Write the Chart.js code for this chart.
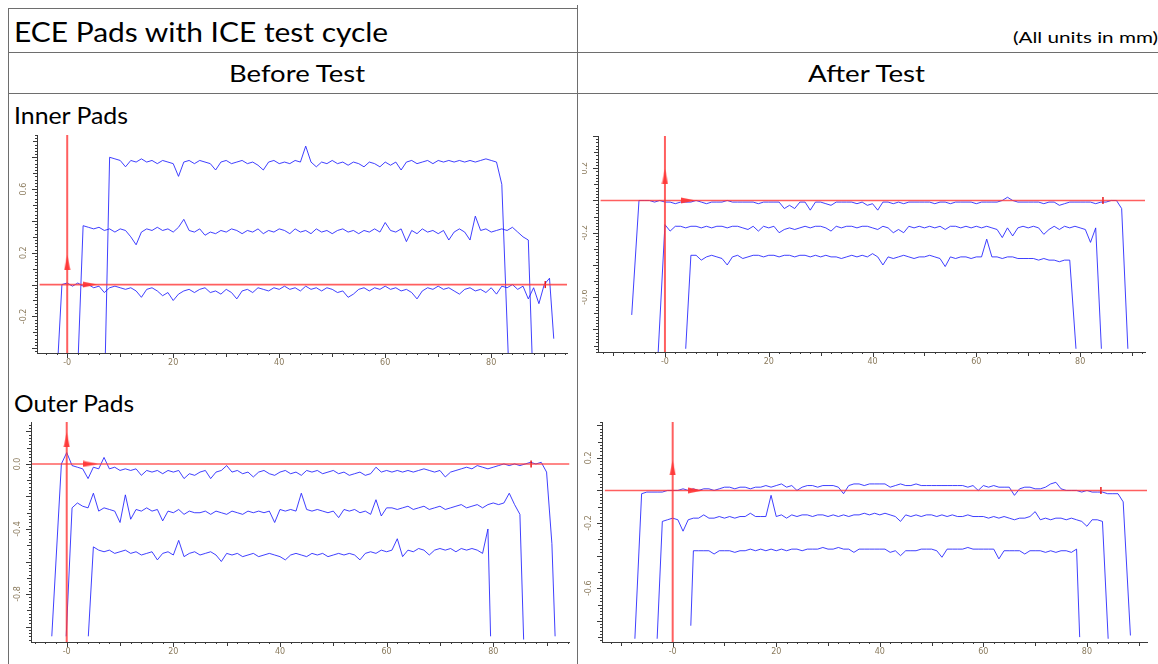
<!DOCTYPE html>
<html>
<head>
<meta charset="utf-8">
<script src="https://cdn.jsdelivr.net/npm/chart.js@4.4.0/dist/chart.umd.min.js"></script>
<style>
html, body { margin: 0; padding: 0; background: #fff; }
body { width: 1158px; height: 664px; position: relative; overflow: hidden; font-family: Lato, "Open Sans", sans-serif; color: #000; }
.ln { position: absolute; background: #6e6e6e; }
.tx { position: absolute; white-space: nowrap; transform-origin: 0 0; }
canvas { position: absolute; }
</style>
</head>
<body>
<div class="ln" style="left:8px;top:8px;width:570px;height:1px"></div>
<div class="ln" style="left:8px;top:52px;width:1150px;height:1px"></div>
<div class="ln" style="left:8px;top:93px;width:1150px;height:1px"></div>
<div class="ln" style="left:8px;top:8px;width:1px;height:656px"></div>
<div class="ln" style="left:577px;top:5px;width:1px;height:659px"></div>

<div class="tx" data-w="374" style="left:14px;top:17px;font-size:27px;line-height:30px">ECE Pads with ICE test cycle</div>
<div class="tx" data-w="145" style="left:1013px;top:27px;font-size:16px;line-height:19px">(All units in mm)</div>
<div class="tx" data-w="136" style="left:229px;top:58px;font-size:24px;line-height:29px">Before Test</div>
<div class="tx" data-w="117" style="left:808px;top:58px;font-size:24px;line-height:29px">After Test</div>
<div class="tx" data-w="114" style="left:14px;top:101px;font-size:23px;line-height:28px">Inner Pads</div>
<div class="tx" data-w="120" style="left:14px;top:389px;font-size:23px;line-height:28px">Outer Pads</div>

<canvas id="beforeInner" width="565" height="242" style="left:10px;top:128px"></canvas>
<canvas id="afterInner" width="576" height="242" style="left:582px;top:128px"></canvas>
<canvas id="beforeOuter" width="565" height="249" style="left:10px;top:415px"></canvas>
<canvas id="afterOuter" width="576" height="249" style="left:582px;top:415px"></canvas>

<script>
// shared x positions (mm) along the scan
const gridMm = [-6, -5, -4, -3, -2, -1, 0, 1, 2, 3, 4, 5, 6, 7, 8, 9, 10, 11, 12, 13, 14, 15, 16, 17, 18, 19,
  20, 21, 22, 23, 24, 25, 26, 27, 28, 29, 30, 31, 32, 33, 34, 35, 36, 37, 38, 39, 40, 41, 42, 43, 44, 45, 46, 47, 48, 49,
  50, 51, 52, 53, 54, 55, 56, 57, 58, 59, 60, 61, 62, 63, 64, 65, 66, 67, 68, 69, 70, 71, 72, 73, 74, 75, 76, 77, 78, 79,
  80, 81, 82, 83, 84, 85, 86, 87, 88, 89, 90, 91, 92];

const xTickMm = [0, 20, 40, 60, 80];
const beforeInnerYTicks = [0.6, 0.2, -0.2];
const afterInnerYTicks = [0.2, -0.2, -0.6];
const beforeOuterYTicks = [0.0, -0.4, -0.8];
const afterOuterYTicks = [0.2, -0.2, -0.6];

// ---- Before test, inner pads ----
const beforeInnerAFrom = 8;
const beforeInnerA = [0.80, 0.79, 0.78, 0.74, 0.78, 0.77, 0.79, 0.77, 0.78, 0.76,
  0.78, 0.77, 0.76, 0.68, 0.77, 0.78, 0.76, 0.78, 0.77, 0.76,
  0.72, 0.77, 0.78, 0.76, 0.77, 0.78, 0.76, 0.77, 0.75, 0.72,
  0.77, 0.78, 0.76, 0.77, 0.76, 0.78, 0.77, 0.87, 0.77, 0.74,
  0.77, 0.76, 0.78, 0.76, 0.77, 0.75, 0.77, 0.76, 0.74, 0.77,
  0.76, 0.74, 0.77, 0.75, 0.77, 0.72, 0.77, 0.78, 0.76, 0.77,
  0.78, 0.76, 0.78, 0.77, 0.78, 0.77, 0.78, 0.77, 0.78, 0.77,
  0.78, 0.79, 0.78, 0.77, 0.63];
const beforeInnerAEnds = [[7.2, -0.43], [83.2, -0.43]];

const beforeInnerBFrom = 3;
const beforeInnerB = [0.37, 0.36, 0.35, 0.36, 0.34, 0.35, 0.33, 0.35, 0.34, 0.30,
  0.25, 0.33, 0.35, 0.34, 0.36, 0.34, 0.35, 0.33, 0.36, 0.41,
  0.34, 0.33, 0.35, 0.31, 0.33, 0.32, 0.34, 0.33, 0.35, 0.34,
  0.32, 0.34, 0.33, 0.35, 0.32, 0.34, 0.33, 0.35, 0.34, 0.32,
  0.35, 0.33, 0.34, 0.32, 0.35, 0.33, 0.34, 0.32, 0.34, 0.35,
  0.33, 0.34, 0.32, 0.34, 0.33, 0.35, 0.33, 0.39, 0.34, 0.33,
  0.35, 0.27, 0.34, 0.32, 0.35, 0.33, 0.34, 0.32, 0.34, 0.28,
  0.33, 0.35, 0.33, 0.28, 0.43, 0.34, 0.35, 0.33, 0.34, 0.35,
  0.34, 0.36, 0.33, 0.30, 0.28];
const beforeInnerBEnds = [[2.1, -0.43], [87.7, -0.43]];

const beforeInnerCFrom = -1;
const beforeInnerC = [0.00, 0.01, -0.01, 0.01, -0.01, 0.00, -0.02, -0.01, -0.05, -0.02,
  -0.01, -0.02, -0.03, -0.02, -0.04, -0.08, -0.03, -0.02, -0.04, -0.07,
  -0.05, -0.10, -0.06, -0.04, -0.03, -0.05, -0.03, -0.02, -0.05, -0.04,
  -0.06, -0.03, -0.05, -0.09, -0.04, -0.03, -0.05, -0.02, -0.03, -0.04,
  -0.02, -0.03, -0.01, -0.03, -0.02, -0.04, -0.01, -0.03, -0.02, -0.04,
  -0.02, -0.03, -0.05, -0.04, -0.08, -0.06, -0.03, -0.02, -0.04, -0.02,
  -0.03, -0.01, -0.03, -0.02, -0.04, -0.03, -0.05, -0.09, -0.04, -0.02,
  -0.03, -0.01, -0.03, -0.02, -0.04, -0.06, -0.03, -0.02, -0.04, -0.03,
  -0.05, -0.02, -0.06, -0.01, -0.02, 0.00, -0.03, -0.01, -0.09, -0.02,
  -0.12, 0.00, 0.04];
const beforeInnerCEnds = [[-1.7, -0.43], [91.8, -0.34]];

// ---- After test, inner pads ----
const afterInnerAFrom = -5;
const afterInnerA = [0.00, 0.00, 0.00, -0.01, 0.00, -0.01, -0.01, -0.02, -0.01, -0.01,
  -0.01, 0.00, -0.01, -0.02, -0.01, -0.01, -0.01, 0.00, -0.01, -0.01,
  -0.01, -0.01, -0.01, -0.02, -0.01, -0.01, -0.01, -0.01, -0.05, -0.03,
  -0.05, -0.01, -0.01, -0.06, -0.01, -0.01, -0.02, -0.03, -0.01, -0.01,
  -0.01, -0.01, -0.02, -0.01, -0.03, -0.02, -0.06, -0.01, -0.01, -0.02,
  -0.01, -0.02, -0.01, -0.01, -0.01, -0.01, -0.01, -0.02, -0.01, -0.01,
  -0.02, -0.01, -0.01, -0.01, -0.01, -0.02, -0.01, -0.01, -0.01, -0.01,
  0.00, 0.02, 0.00, -0.01, -0.01, -0.01, -0.01, -0.01, -0.02, -0.01,
  -0.01, -0.03, -0.02, -0.01, -0.01, -0.01, -0.01, -0.01, -0.02, -0.01,
  -0.01, 0.00, 0.00, -0.05];
const afterInnerAEnds = [[-6.4, -0.71], [89.2, -0.92]];

const afterInnerBFrom = 0;
const afterInnerB = [-0.15, -0.19, -0.16, -0.16, -0.17, -0.16, -0.16, -0.17, -0.16, -0.17,
  -0.16, -0.16, -0.17, -0.16, -0.16, -0.17, -0.18, -0.16, -0.19, -0.16,
  -0.17, -0.16, -0.20, -0.18, -0.17, -0.18, -0.17, -0.16, -0.17, -0.16,
  -0.16, -0.17, -0.19, -0.16, -0.17, -0.16, -0.16, -0.17, -0.16, -0.16,
  -0.17, -0.18, -0.16, -0.17, -0.20, -0.18, -0.20, -0.16, -0.17, -0.16,
  -0.17, -0.16, -0.17, -0.16, -0.18, -0.16, -0.16, -0.17, -0.16, -0.17,
  -0.16, -0.17, -0.16, -0.17, -0.18, -0.23, -0.17, -0.22, -0.17, -0.16,
  -0.17, -0.16, -0.17, -0.21, -0.18, -0.16, -0.18, -0.16, -0.17, -0.16,
  -0.17, -0.18, -0.26, -0.17];
const afterInnerBEnds = [[-1.3, -0.94], [84.1, -0.92]];

const afterInnerCFrom = 5;
const afterInnerC = [-0.34, -0.34, -0.37, -0.35, -0.34, -0.35, -0.36, -0.40, -0.35, -0.34,
  -0.36, -0.35, -0.34, -0.34, -0.35, -0.34, -0.34, -0.35, -0.34, -0.34,
  -0.35, -0.34, -0.34, -0.35, -0.34, -0.35, -0.34, -0.35, -0.35, -0.36,
  -0.35, -0.34, -0.35, -0.34, -0.35, -0.33, -0.35, -0.40, -0.35, -0.36,
  -0.35, -0.34, -0.35, -0.36, -0.35, -0.35, -0.34, -0.35, -0.36, -0.41,
  -0.35, -0.36, -0.35, -0.35, -0.36, -0.35, -0.35, -0.24, -0.35, -0.35,
  -0.36, -0.35, -0.35, -0.36, -0.36, -0.36, -0.36, -0.37, -0.36, -0.37,
  -0.37, -0.38, -0.37, -0.37];
const afterInnerCEnds = [[4.0, -0.92], [79.2, -0.92]];

// ---- Before test, outer pads ----
const beforeOuterAFrom = -1;
const beforeOuterA = [0.00, 0.07, -0.01, -0.02, -0.03, -0.09, -0.02, -0.03, 0.04, -0.03,
  -0.02, -0.04, -0.03, -0.04, -0.03, -0.07, -0.04, -0.05, -0.04, -0.06,
  -0.04, -0.05, -0.04, -0.09, -0.06, -0.07, -0.05, -0.04, -0.09, -0.05,
  -0.04, -0.01, -0.05, -0.04, -0.06, -0.05, -0.08, -0.05, -0.04, -0.06,
  -0.07, -0.05, -0.04, -0.06, -0.05, -0.07, -0.04, -0.05, -0.04, -0.06,
  -0.05, -0.04, -0.06, -0.05, -0.07, -0.06, -0.05, -0.07, -0.06, -0.02,
  -0.05, -0.04, -0.05, -0.04, -0.05, -0.04, -0.05, -0.04, -0.03, -0.04,
  -0.05, -0.04, -0.08, -0.05, -0.04, -0.03, -0.02, -0.03, -0.01, -0.02,
  -0.03, -0.02, -0.01, 0.00, -0.01, 0.00, -0.01, 0.00, 0.01, 0.00,
  0.01, -0.05, -0.49];
const beforeOuterAEnds = [[-2.8, -1.06], [91.6, -1.06]];

const beforeOuterBFrom = 1;
const beforeOuterB = [-0.27, -0.24, -0.26, -0.27, -0.18, -0.29, -0.27, -0.28, -0.29, -0.36,
  -0.19, -0.34, -0.28, -0.29, -0.27, -0.29, -0.28, -0.35, -0.29, -0.30,
  -0.28, -0.31, -0.29, -0.30, -0.30, -0.29, -0.31, -0.29, -0.30, -0.31,
  -0.29, -0.30, -0.31, -0.29, -0.30, -0.29, -0.30, -0.29, -0.36, -0.28,
  -0.29, -0.28, -0.29, -0.18, -0.28, -0.29, -0.28, -0.29, -0.30, -0.29,
  -0.33, -0.28, -0.29, -0.28, -0.30, -0.29, -0.31, -0.22, -0.32, -0.27,
  -0.27, -0.28, -0.27, -0.26, -0.28, -0.27, -0.26, -0.28, -0.27, -0.26,
  -0.28, -0.27, -0.26, -0.25, -0.27, -0.26, -0.25, -0.27, -0.25, -0.24,
  -0.25, -0.24, -0.18, -0.25, -0.31];
const beforeOuterBEnds = [[-0.1, -1.06], [85.7, -1.08]];

const beforeOuterCFrom = 5;
const beforeOuterC = [-0.51, -0.53, -0.54, -0.53, -0.55, -0.54, -0.53, -0.55, -0.54, -0.56,
  -0.55, -0.54, -0.59, -0.55, -0.54, -0.56, -0.47, -0.57, -0.55, -0.54,
  -0.56, -0.55, -0.54, -0.56, -0.60, -0.55, -0.56, -0.55, -0.57, -0.56,
  -0.55, -0.57, -0.56, -0.55, -0.56, -0.57, -0.59, -0.56, -0.55, -0.56,
  -0.57, -0.55, -0.56, -0.55, -0.57, -0.56, -0.55, -0.56, -0.55, -0.56,
  -0.59, -0.55, -0.54, -0.55, -0.53, -0.54, -0.53, -0.46, -0.57, -0.53,
  -0.54, -0.52, -0.53, -0.56, -0.53, -0.52, -0.53, -0.52, -0.54, -0.52,
  -0.53, -0.52, -0.53, -0.55, -0.40];
const beforeOuterCEnds = [[4.05, -1.06], [79.5, -1.06]];

// ---- After test, outer pads ----
const afterOuterAFrom = -6;
const afterOuterA = [-0.02, -0.01, -0.01, -0.01, -0.01, 0.00, 0.00, 0.00, 0.01, 0.00,
  0.01, 0.00, 0.01, 0.01, 0.00, 0.01, 0.02, 0.02, 0.01, 0.02,
  0.02, 0.01, 0.02, 0.02, 0.03, 0.02, 0.03, 0.04, 0.02, 0.03,
  0.00, 0.02, 0.03, 0.03, 0.02, 0.03, 0.03, 0.03, 0.02, -0.02,
  0.03, 0.04, 0.04, 0.03, 0.04, 0.04, 0.04, 0.04, 0.02, 0.03,
  0.04, 0.03, 0.03, 0.04, 0.03, 0.03, 0.03, 0.03, 0.03, 0.03,
  0.03, 0.03, 0.03, 0.02, 0.03, 0.00, 0.03, 0.02, 0.03, 0.02,
  0.02, 0.02, -0.03, 0.01, 0.02, 0.02, 0.01, 0.01, 0.02, 0.04,
  0.05, 0.01, 0.00, 0.00, 0.00, -0.01, 0.00, -0.01, -0.01, -0.01,
  -0.02, -0.02, -0.02, -0.07];
const afterOuterAEnds = [[-7.3, -0.91], [88.4, -0.89]];

const afterOuterBFrom = -2;
const afterOuterB = [-0.19, -0.18, -0.17, -0.18, -0.25, -0.18, -0.17, -0.17, -0.15, -0.17,
  -0.17, -0.16, -0.17, -0.16, -0.17, -0.16, -0.16, -0.14, -0.16, -0.16,
  -0.16, -0.03, -0.16, -0.15, -0.17, -0.15, -0.16, -0.15, -0.15, -0.16,
  -0.15, -0.15, -0.16, -0.15, -0.16, -0.15, -0.16, -0.15, -0.15, -0.14,
  -0.15, -0.14, -0.15, -0.14, -0.15, -0.16, -0.19, -0.15, -0.16, -0.15,
  -0.16, -0.15, -0.15, -0.16, -0.15, -0.16, -0.15, -0.16, -0.16, -0.15,
  -0.16, -0.16, -0.16, -0.17, -0.16, -0.17, -0.16, -0.17, -0.18, -0.17,
  -0.17, -0.16, -0.13, -0.18, -0.17, -0.18, -0.17, -0.17, -0.18, -0.17,
  -0.18, -0.19, -0.22, -0.18, -0.18, -0.19];
const afterOuterBEnds = [[-3.0, -0.91], [84.1, -0.91]];

const afterOuterCFrom = 4;
const afterOuterC = [-0.37, -0.37, -0.37, -0.37, -0.39, -0.37, -0.37, -0.37, -0.38, -0.37,
  -0.37, -0.36, -0.37, -0.36, -0.37, -0.36, -0.37, -0.36, -0.37, -0.36,
  -0.36, -0.37, -0.36, -0.36, -0.36, -0.35, -0.36, -0.36, -0.35, -0.36,
  -0.36, -0.38, -0.36, -0.36, -0.36, -0.36, -0.36, -0.36, -0.38, -0.37,
  -0.40, -0.37, -0.37, -0.37, -0.36, -0.36, -0.36, -0.37, -0.41, -0.36,
  -0.36, -0.36, -0.36, -0.35, -0.36, -0.36, -0.36, -0.36, -0.36, -0.42,
  -0.37, -0.37, -0.37, -0.37, -0.39, -0.37, -0.37, -0.37, -0.38, -0.37,
  -0.38, -0.37, -0.37, -0.38, -0.36];
const afterOuterCEnds = [[3.5, -0.83], [78.6, -0.90]];

// red cross-hair: [up arrow y, right arrow x], horizontal line x-span, marker x
const beforeInnerArrows = [0.14, 4.3];
const afterInnerArrows = [0.15, 4.5];
const beforeOuterArrows = [0.15, 4.5];
const afterOuterArrows = [0.14, 4.4];
const beforeInnerRedX = [-5.2, 94.3];
const afterInnerRedX = [-12.4, 92.5];
const beforeOuterRedX = [-6.5, 94.3];
const afterOuterRedX = [-13.1, 91.6];
const beforeInnerMark = 90.2;
const afterInnerMark = 84.4;
const beforeOuterMark = 87.1;
const afterOuterMark = 82.7;

function trace(from, ys, ends) {
  const i0 = gridMm.indexOf(from);
  const pts = ys.map((y, i) => ({ x: gridMm[i0 + i], y: y }));
  return [{ x: ends[0][0], y: ends[0][1] }].concat(pts, [{ x: ends[1][0], y: ends[1][1] }]);
}

function arrowImage() {
  const c = document.createElement('canvas');
  c.width = 7;
  c.height = 15;
  const g = c.getContext('2d');
  g.fillStyle = 'rgba(255,45,45,0.9)';
  g.beginPath();
  g.moveTo(3.5, 0);
  g.lineTo(6.5, 15);
  g.lineTo(0.5, 15);
  g.closePath();
  g.fill();
  return c;
}
const arrow = arrowImage();

const tickColor = '#8a7a5c';
const axisColor = '#3a3a3a';

// minor/major ruler ticks along both axes
const rulerTicks = {
  id: 'rulerTicks',
  afterDraw(chart) {
    const { ctx } = chart;
    const x = chart.scales.x, y = chart.scales.y;
    ctx.save();
    ctx.strokeStyle = axisColor;
    ctx.lineWidth = 1;
    ctx.beginPath();
    for (let v = Math.ceil(x.min / 2) * 2; v <= x.max; v += 2) {
      const px = Math.round(x.getPixelForValue(v)) + 0.5;
      const len = v % 20 === 0 ? 5 : (v % 10 === 0 ? 4 : 2);
      ctx.moveTo(px, x.top);
      ctx.lineTo(px, x.top + len);
    }
    for (let k = Math.ceil(y.min * 50); k <= Math.floor(y.max * 50); k++) {
      const py = Math.round(y.getPixelForValue(k / 50)) + 0.5;
      const len = k % 10 === 0 ? 5 : (k % 5 === 0 ? 4 : 2);
      ctx.moveTo(y.right, py);
      ctx.lineTo(y.right - len, py);
    }
    ctx.stroke();
    ctx.restore();
  }
};

function drawPanel(id, p) {
  const red = 'rgba(255,55,55,0.8)';
  const blue = 'rgba(30,30,255,0.85)';
  const datasets = [
    { data: [{ x: 0, y: p.y[0] }, { x: 0, y: p.y[1] }], borderColor: red, borderWidth: 2 },
    { data: [{ x: p.redX[0], y: 0 }, { x: p.redX[1], y: 0 }], borderColor: red, borderWidth: 1.6 },
    { data: [{ x: 0, y: p.arrows[0] }], showLine: false, pointStyle: arrow, rotation: 0, pointRadius: 4 },
    { data: [{ x: p.arrows[1], y: 0 }], showLine: false, pointStyle: arrow, rotation: 90, pointRadius: 4 },
    { data: [{ x: p.mark, y: 0 }], showLine: false, pointStyle: 'line', rotation: 90, pointRadius: 3.5, borderColor: 'rgba(230,0,0,0.9)', borderWidth: 1.5 }
  ].concat(p.traces.map(t => ({ data: t, borderColor: blue, borderWidth: 1 })));

  return new Chart(document.getElementById(id), {
    type: 'line',
    data: { datasets: datasets },
    options: {
      responsive: false,
      animation: false,
      events: [],
      elements: { line: { tension: 0 }, point: { radius: 0 } },
      layout: { padding: { top: p.padTop, right: p.padRight, left: 0, bottom: 0 } },
      plugins: { legend: { display: false }, tooltip: { enabled: false } },
      scales: {
        x: {
          type: 'linear',
          min: p.x[0],
          max: p.x[1],
          afterBuildTicks: s => { s.ticks = xTickMm.map(v => ({ value: v })); },
          afterFit: s => { s.height = p.xh; s.paddingLeft = 0; s.paddingRight = 0; },
          grid: { display: false, drawTicks: false },
          border: { display: true, color: axisColor, width: 1 },
          ticks: {
            padding: 5, color: tickColor, autoSkip: false, minRotation: 0, maxRotation: 0,
            font: { size: 8, family: 'DejaVu Sans' },
            callback: v => (v === 0 ? '-0' : String(v))
          }
        },
        y: {
          type: 'linear',
          min: p.y[0],
          max: p.y[1],
          afterBuildTicks: s => { s.ticks = p.yTicks.map(v => ({ value: v })); },
          afterFit: s => { s.width = p.yw; s.paddingTop = 0; s.paddingBottom = 0; },
          grid: { display: false, drawTicks: false },
          border: { display: true, color: axisColor, width: 1 },
          ticks: {
            padding: 5, color: tickColor, autoSkip: false, minRotation: 90, maxRotation: 90,
            crossAlign: 'center',
            font: { size: 8, family: 'DejaVu Sans' },
            callback: v => Number(v).toFixed(1)
          }
        }
      }
    },
    plugins: [rulerTicks]
  });
}

drawPanel('beforeInner', {
  x: [-5.7, 94.3], y: [-0.43, 0.94], yTicks: beforeInnerYTicks,
  yw: 27, xh: 17, padTop: 7, padRight: 8,
  arrows: beforeInnerArrows, redX: beforeInnerRedX, mark: beforeInnerMark,
  traces: [
    trace(beforeInnerAFrom, beforeInnerA, beforeInnerAEnds),
    trace(beforeInnerBFrom, beforeInnerB, beforeInnerBEnds),
    trace(beforeInnerCFrom, beforeInnerC, beforeInnerCEnds)
  ]
});

drawPanel('afterInner', {
  x: [-12.9, 92.5], y: [-0.94, 0.40], yTicks: afterInnerYTicks,
  yw: 16, xh: 18, padTop: 8, padRight: 13,
  arrows: afterInnerArrows, redX: afterInnerRedX, mark: afterInnerMark,
  traces: [
    trace(afterInnerAFrom, afterInnerA, afterInnerAEnds),
    trace(afterInnerBFrom, afterInnerB, afterInnerBEnds),
    trace(afterInnerCFrom, afterInnerC, afterInnerCEnds)
  ]
});

drawPanel('beforeOuter', {
  x: [-6.7, 94.3], y: [-1.095, 0.258], yTicks: beforeOuterYTicks,
  yw: 21, xh: 22, padTop: 7, padRight: 5,
  arrows: beforeOuterArrows, redX: beforeOuterRedX, mark: beforeOuterMark,
  traces: [
    trace(beforeOuterAFrom, beforeOuterA, beforeOuterAEnds),
    trace(beforeOuterBFrom, beforeOuterB, beforeOuterBEnds),
    trace(beforeOuterCFrom, beforeOuterC, beforeOuterCEnds)
  ]
});

drawPanel('afterOuter', {
  x: [-13.65, 91.6], y: [-0.93, 0.42], yTicks: afterOuterYTicks,
  yw: 20, xh: 22, padTop: 7, padRight: 11,
  arrows: afterOuterArrows, redX: afterOuterRedX, mark: afterOuterMark,
  traces: [
    trace(afterOuterAFrom, afterOuterA, afterOuterAEnds),
    trace(afterOuterBFrom, afterOuterB, afterOuterBEnds),
    trace(afterOuterCFrom, afterOuterC, afterOuterCEnds)
  ]
});

// squeeze headings to the widths they take in the table
document.querySelectorAll('.tx').forEach(el => {
  const w = Number(el.dataset.w);
  const s = w / el.getBoundingClientRect().width;
  el.style.transform = 'scaleX(' + s.toFixed(3) + ')';
});
</script>
</body>
</html>
